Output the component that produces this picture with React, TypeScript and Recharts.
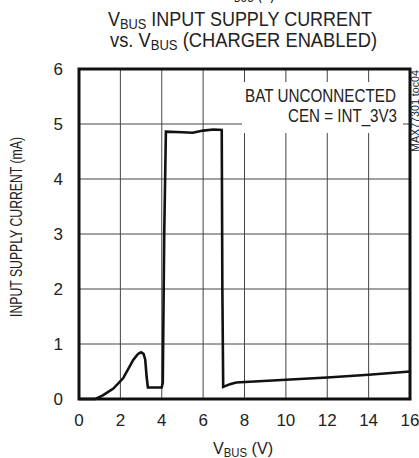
import React from "react";
import { LineChart, Line, XAxis, YAxis, CartesianGrid, ReferenceArea } from "recharts";

const vbusVolts = [0, 0.8, 1.17, 1.66, 2.14, 2.62, 2.85, 3.0, 3.12, 3.2, 3.27, 3.33, 4.0, 4.05, 4.12, 4.2, 5.0, 5.5, 6.0, 6.5, 6.9, 6.93, 6.97, 7.3, 7.6, 10, 12, 14, 16];
const supplyCurrent = [0, 0, 0.07, 0.19, 0.38, 0.71, 0.82, 0.85, 0.82, 0.72, 0.4, 0.21, 0.21, 0.3, 3.0, 4.86, 4.85, 4.84, 4.88, 4.9, 4.89, 2.0, 0.22, 0.27, 0.3, 0.35, 0.39, 0.44, 0.5];
const xTicks = [0, 2, 4, 6, 8, 10, 12, 14, 16];
const yTicks = [0, 1, 2, 3, 4, 5, 6];

const data = vbusVolts.map((v, i) => ({ v, i: supplyCurrent[i] }));

const FONT = "'Liberation Sans', Arial, sans-serif";

export default function App() {
  return (
    <div style={{ position: "absolute", left: 0, top: 0, width: 419, height: 458, background: "#fff", fontFamily: FONT }}>
      <LineChart width={419} height={458} data={data} margin={{ top: 69, right: 9, bottom: 0, left: 0 }}>
        <CartesianGrid stroke="#444" strokeWidth={1} horizontalValues={yTicks} verticalValues={xTicks} />
        <XAxis
          dataKey="v"
          type="number"
          domain={[0, 16]}
          ticks={xTicks}
          height={59}
          axisLine={false}
          tickLine={false}
          tickSize={0}
          tickMargin={15}
          tick={{ fill: "#222", fontSize: 17, fontFamily: FONT }}
          interval={0}
        />
        <YAxis
          type="number"
          domain={[0, 6]}
          ticks={yTicks}
          width={79}
          axisLine={false}
          tickLine={false}
          tickSize={0}
          tickMargin={16}
          tick={{ fill: "#222", fontSize: 17, fontFamily: FONT }}
          interval={0}
        />
        <ReferenceArea x1={0} x2={16} y1={0} y2={6} fill="none" fillOpacity={0} stroke="#111" strokeWidth={3} />
        <Line type="linear" dataKey="i" stroke="#111" strokeWidth={2.6} dot={false} isAnimationActive={false} />
      </LineChart>
      <svg width={419} height={458} style={{ position: "absolute", left: 0, top: 0, pointerEvents: "none" }} fontFamily={FONT} fill="#222">
        <text x={225} y={-1} fontSize={21} textLength={50} lengthAdjust="spacingAndGlyphs">
          V<tspan fontSize={15} dy={3}>BUS</tspan><tspan dy={-3}> (V)</tspan>
        </text>
        <text x={108} y={26} fontSize={21} textLength={264} lengthAdjust="spacingAndGlyphs">
          V<tspan fontSize={15} dy={3}>BUS</tspan><tspan dy={-3}> INPUT SUPPLY CURRENT</tspan>
        </text>
        <text x={110} y={47} fontSize={21} textLength={267} lengthAdjust="spacingAndGlyphs">
          vs. V<tspan fontSize={15} dy={3}>BUS</tspan><tspan dy={-3}> (CHARGER ENABLED)</tspan>
        </text>
        <rect x={242} y={82} width={161} height={51} fill="#fff" />
        <text x={245} y={102} fontSize={19} textLength={151} lengthAdjust="spacingAndGlyphs">BAT UNCONNECTED</text>
        <text x={288} y={122} fontSize={19} textLength={109} lengthAdjust="spacingAndGlyphs">CEN = INT_3V3</text>
        <text transform="translate(419,152) rotate(-90)" fontSize={10} textLength={82} lengthAdjust="spacingAndGlyphs">MAX77301 toc04</text>
        <text transform="translate(22,317) rotate(-90)" fontSize={17} textLength={180} lengthAdjust="spacingAndGlyphs">INPUT SUPPLY CURRENT (mA)</text>
        <text x={213} y={454} fontSize={17} textLength={60} lengthAdjust="spacingAndGlyphs">
          V<tspan fontSize={12} dy={3}>BUS</tspan><tspan dy={-3}> (V)</tspan>
        </text>
      </svg>
    </div>
  );
}
